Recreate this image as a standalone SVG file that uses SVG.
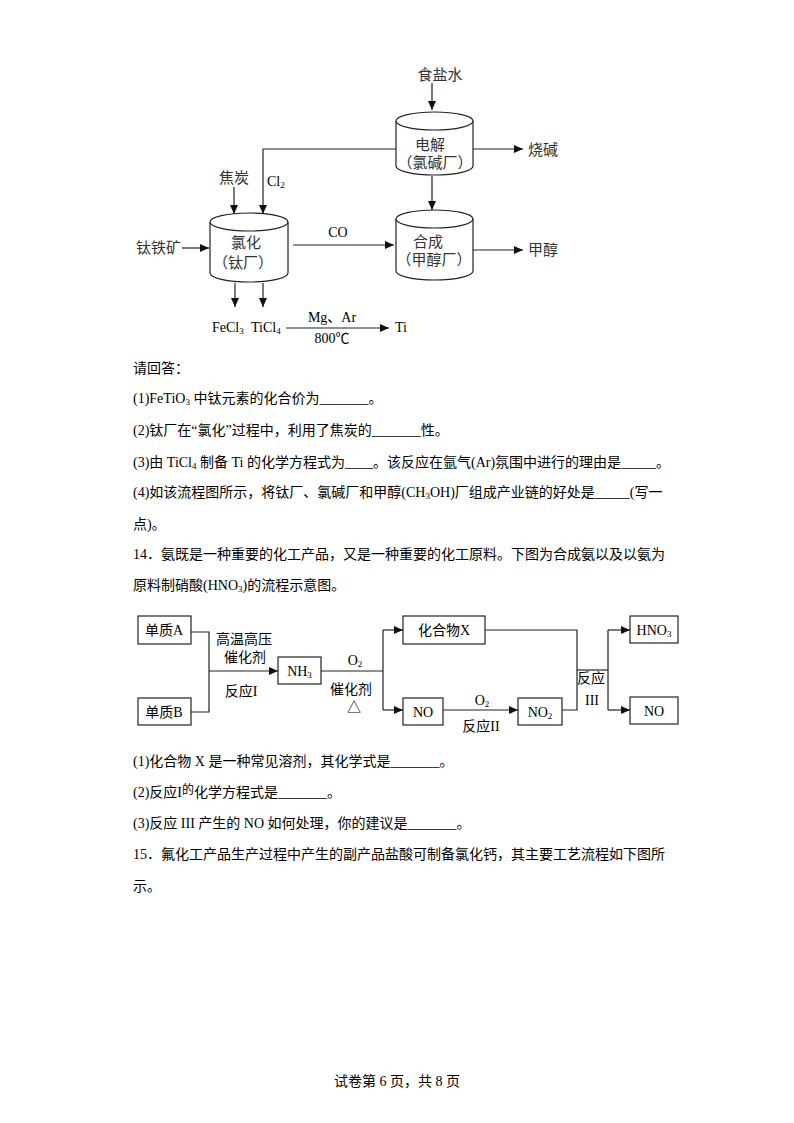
<svg xmlns="http://www.w3.org/2000/svg" width="794" height="1123" viewBox="0 0 794 1123">
<defs>
<marker id="ah" markerWidth="9" markerHeight="8" refX="9" refY="4" orient="auto" markerUnits="userSpaceOnUse"><path d="M0,0 L9,4 L0,8 z" fill="#111"/></marker>
<style>
.t{font-family:"Liberation Serif","Noto Sans CJK SC",serif;font-size:14px;fill:#000}
.d{font-family:"Liberation Serif","Noto Sans CJK SC",serif;font-size:15px;fill:#333}
.c{font-family:"Liberation Serif","Noto Sans CJK SC",serif;font-size:14px;fill:#000}
.ln{fill:none;stroke:#222;stroke-width:1.2}
.cy{fill:#fff;stroke:#222;stroke-width:1.2}
.bx{fill:#fff;stroke:#222;stroke-width:1.2}
.s{font-size:9px}
</style>
</defs>
<rect width="794" height="1123" fill="#fff"/>

<!-- Diagram 1 connectors -->
<g id="connectors1">
<line class="ln" x1="432" y1="83" x2="432" y2="110" marker-end="url(#ah)"/>
<line class="ln" x1="473" y1="149" x2="523" y2="149" marker-end="url(#ah)"/>
<path class="ln" d="M396,149 H263 V214" marker-end="url(#ah)"/>
<line class="ln" x1="234" y1="187" x2="234" y2="214" marker-end="url(#ah)"/>
<line class="ln" x1="432" y1="176" x2="432" y2="210" marker-end="url(#ah)"/>
<line class="ln" x1="182" y1="248" x2="209" y2="248" marker-end="url(#ah)"/>
<line class="ln" x1="293" y1="245" x2="394" y2="245" marker-end="url(#ah)"/>
<line class="ln" x1="473" y1="250" x2="523" y2="250" marker-end="url(#ah)"/>
<line class="ln" x1="235" y1="283" x2="235" y2="307" marker-end="url(#ah)"/>
<line class="ln" x1="263" y1="283" x2="263" y2="307" marker-end="url(#ah)"/>
<line class="ln" x1="286" y1="328" x2="389" y2="328" marker-end="url(#ah)"/>
</g>

<g id="cyl-dianjie">
<path class="cy" d="M396,121 L396,166 A38.5,9 0 0 0 473,166 L473,121"/>
<ellipse class="cy" cx="434.5" cy="121" rx="38.5" ry="9"/>
<text class="d" x="430" y="150" text-anchor="middle">电解</text>
<text class="d" x="435" y="168" text-anchor="middle">（氯碱厂）</text>
</g>
<g id="cyl-lvhua">
<path class="cy" d="M210,222 L210,273 A39,9 0 0 0 288,273 L288,222"/>
<ellipse class="cy" cx="249" cy="222" rx="39" ry="9"/>
<text class="d" x="246" y="248" text-anchor="middle">氯化</text>
<text class="d" x="243" y="268" text-anchor="middle">（钛厂）</text>
</g>
<g id="cyl-hecheng">
<path class="cy" d="M396,219 L396,271 A38.5,9 0 0 0 473,271 L473,219"/>
<ellipse class="cy" cx="434.5" cy="219" rx="38.5" ry="9"/>
<text class="d" x="428" y="247" text-anchor="middle">合成</text>
<text class="d" x="434" y="265" text-anchor="middle">（甲醇厂）</text>
</g>

<g id="labels1">
<text class="d" x="440" y="80" text-anchor="middle">食盐水</text>
<text class="d" x="528" y="155">烧碱</text>
<text class="d" x="234" y="183" text-anchor="middle">焦炭</text>
<text class="c" x="267" y="186">Cl<tspan class="s" dy="2">2</tspan></text>
<text class="d" x="181" y="253" text-anchor="end" fill="#000">钛铁矿</text>
<text class="c" x="338" y="237" text-anchor="middle">CO</text>
<text class="d" x="528" y="255">甲醇</text>
<text class="c" x="212" y="332">FeCl<tspan class="s" dy="2">3</tspan></text>
<text class="c" x="251" y="332">TiCl<tspan class="s" dy="2">4</tspan></text>
<text class="c" x="332" y="322" text-anchor="middle">Mg、Ar</text>
<text class="c" x="332" y="343" text-anchor="middle">800℃</text>
<text class="c" x="395" y="332">Ti</text>
</g>

<!-- Body text -->
<g id="body">
<text class="t" x="133" y="373">请回答：</text>
<text class="t" x="133" y="403">(1)FeTiO<tspan class="s" dy="2">3</tspan><tspan dy="-2"> 中钛元素的化合价为_______。</tspan></text>
<text class="t" x="133" y="435">(2)钛厂在“氯化”过程中，利用了焦炭的_______性。</text>
<text class="t" x="133" y="467">(3)由 TiCl<tspan class="s" dy="2">4</tspan><tspan dy="-2"> 制备 Ti 的化学方程式为____。该反应在氩气(Ar)氛围中进行的理由是_____。</tspan></text>
<text class="t" x="133" y="497">(4)如该流程图所示，将钛厂、氯碱厂和甲醇(CH<tspan class="s" dy="2">3</tspan><tspan dy="-2">OH)厂组成产业链的好处是_____(写一</tspan></text>
<text class="t" x="133" y="529">点)。</text>
<text class="t" x="133" y="559">14．氨既是一种重要的化工产品，又是一种重要的化工原料。下图为合成氨以及以氨为</text>
<text class="t" x="133" y="590">原料制硝酸(HNO<tspan class="s" dy="2">3</tspan><tspan dy="-2">)的流程示意图。</tspan></text>
<text class="t" x="133" y="766">(1)化合物 X 是一种常见溶剂，其化学式是_______。</text>
<text class="t" x="133" y="797">(2)反应I<tspan font-size="12" dy="-3">的</tspan><tspan dy="3">化学方程式是_______。</tspan></text>
<text class="t" x="133" y="828">(3)反应 III 产生的 NO 如何处理，你的建议是_______。</text>
<text class="t" x="133" y="859">15．氟化工产品生产过程中产生的副产品盐酸可制备氯化钙，其主要工艺流程如下图所</text>
<text class="t" x="133" y="891">示。</text>
<text class="t" x="397" y="1086" text-anchor="middle">试卷第 6 页，共 8 页</text>
</g>

<!-- Diagram 2 connectors -->
<g id="connectors2">
<polyline class="ln" points="191,632 209,632 209,712 191,712"/>
<line class="ln" x1="209" y1="671" x2="278" y2="671" marker-end="url(#ah)"/>
<line class="ln" x1="321" y1="671" x2="383" y2="671"/>
<line class="ln" x1="383" y1="630" x2="383" y2="710"/>
<line class="ln" x1="383" y1="630" x2="403" y2="630" marker-end="url(#ah)"/>
<line class="ln" x1="383" y1="710" x2="403" y2="710" marker-end="url(#ah)"/>
<line class="ln" x1="443" y1="710" x2="518" y2="710" marker-end="url(#ah)"/>
<polyline class="ln" points="485,630 577,630 577,710 562,710"/>
<line class="ln" x1="577" y1="670" x2="608" y2="670"/>
<line class="ln" x1="608" y1="630" x2="608" y2="710"/>
<line class="ln" x1="608" y1="630" x2="630" y2="630" marker-end="url(#ah)"/>
<line class="ln" x1="608" y1="710" x2="630" y2="710" marker-end="url(#ah)"/>
</g>

<g id="n-A"><rect class="bx" x="138" y="616" width="53" height="28"/><text class="c" x="164" y="635" text-anchor="middle">单质A</text></g>
<g id="n-B"><rect class="bx" x="138" y="698" width="53" height="27"/><text class="c" x="164" y="717" text-anchor="middle">单质B</text></g>
<g id="n-NH3"><rect class="bx" x="278" y="657" width="43" height="27"/><text class="c" x="299.5" y="676" text-anchor="middle">NH<tspan class="s" dy="2">3</tspan></text></g>
<g id="n-X"><rect class="bx" x="403" y="616" width="82" height="28"/><text class="c" x="444" y="635" text-anchor="middle">化合物X</text></g>
<g id="n-NO1"><rect class="bx" x="403" y="698" width="40" height="27"/><text class="c" x="423" y="717" text-anchor="middle">NO</text></g>
<g id="n-NO2"><rect class="bx" x="518" y="698" width="44" height="27"/><text class="c" x="540" y="717" text-anchor="middle">NO<tspan class="s" dy="2">2</tspan></text></g>
<g id="n-HNO3"><rect class="bx" x="630" y="616" width="48" height="27"/><text class="c" x="654" y="635" text-anchor="middle">HNO<tspan class="s" dy="2">3</tspan></text></g>
<g id="n-NO3"><rect class="bx" x="630" y="697" width="48" height="27"/><text class="c" x="654" y="716" text-anchor="middle">NO</text></g>

<g id="labels2">
<text class="c" x="244" y="644" text-anchor="middle">高温高压</text>
<text class="c" x="245" y="662" text-anchor="middle">催化剂</text>
<text class="c" x="241" y="696" text-anchor="middle">反应I</text>
<text class="c" x="355" y="665" text-anchor="middle">O<tspan class="s" dy="2">2</tspan></text>
<text class="c" x="351" y="694" text-anchor="middle">催化剂</text>
<text class="c" x="354" y="712" text-anchor="middle" font-size="13">△</text>
<text class="c" x="482" y="705" text-anchor="middle">O<tspan class="s" dy="2">2</tspan></text>
<text class="c" x="481" y="731" text-anchor="middle">反应II</text>
<text class="c" x="591" y="683" text-anchor="middle">反应</text>
<text class="c" x="592" y="705" text-anchor="middle">III</text>
</g>
</svg>
